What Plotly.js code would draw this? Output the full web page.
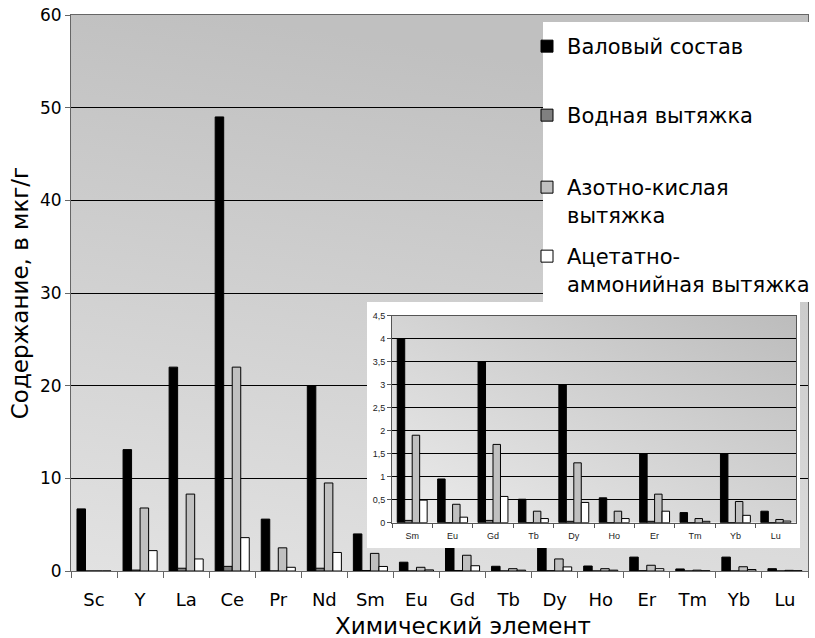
<!DOCTYPE html>
<html><head><meta charset="utf-8">
<script src="https://cdn.plot.ly/plotly-3.0.1.min.js"></script>
<style>html,body{margin:0;padding:0;background:#fff}#chart{width:815px;height:638px}</style>
</head><body><div id="chart"></div>
<script>
// ---- data ----
const elements = ['Sc','Y','La','Ce','Pr','Nd','Sm','Eu','Gd','Tb','Dy','Ho','Er','Tm','Yb','Lu'];
const totalContent   = [6.7, 13.1, 22.0, 49.0, 5.6, 20.0, 4.0, 0.95, 3.5, 0.51, 3.0, 0.54, 1.5, 0.22, 1.5, 0.25];
const waterExtract   = [0, 0.1, 0.3, 0.5, 0, 0.3, 0.05, 0, 0.05, 0, 0.03, 0, 0.03, 0, 0, 0];
const nitricExtract  = [0, 6.8, 8.3, 22.0, 2.5, 9.5, 1.9, 0.4, 1.7, 0.25, 1.3, 0.25, 0.62, 0.09, 0.46, 0.07];
const acetateExtract = [0, 2.2, 1.3, 3.6, 0.4, 2.0, 0.49, 0.12, 0.57, 0.09, 0.44, 0.09, 0.25, 0.03, 0.16, 0.035];
const seriesNames = ['Валовый состав', 'Водная вытяжка', 'Азотно-кислая<br>вытяжка', 'Ацетатно-<br>аммонийная вытяжка'];
const insetFirstElement = 'Sm';
const mainYTicks = [0, 10, 20, 30, 40, 50, 60];
const insetYTicks = [0, 0.5, 1, 1.5, 2, 2.5, 3, 3.5, 4, 4.5];
const yTitle = 'Содержание, в мкг/г';
const xTitle = 'Химический элемент';

// ---- styling ----
const seriesColors = ['#000000', '#808080', '#c0c0c0', '#ffffff'];
const allSeries = [totalContent, waterExtract, nitricExtract, acetateExtract];
const legendIds = ['legend', 'legend2', 'legend3', 'legend4'];
const legendTopsPx = [26, 95, 167, 236];
const W = 815, H = 638, M = {l: 71, r: 7, t: 15, b: 67};
const PW = W - M.l - M.r, PH = H - M.t - M.b;
const px2x = p => (p - M.l) / PW;
const px2y = p => (H - M.b - p) / PH;

function gradientSvg(c0, c1, x2, y2) {
  const s = "<svg xmlns='http://www.w3.org/2000/svg' width='100' height='100' viewBox='0 0 100 100' preserveAspectRatio='none'>" +
    "<defs><linearGradient id='g' x1='0' y1='1' x2='" + x2 + "' y2='" + y2 + "'>" +
    "<stop offset='0' stop-color='" + c0 + "'/><stop offset='1' stop-color='" + c1 + "'/></linearGradient></defs>" +
    "<rect x='0' y='0' width='100' height='100' fill='url(#g)'/></svg>";
  return 'data:image/svg+xml;base64,' + btoa(s);
}

const insetIdx = elements.indexOf(insetFirstElement);
const traces = [];
allSeries.forEach((vals, i) => {
  traces.push({
    type: 'bar', x: elements, y: vals, name: seriesNames[i],
    xaxis: 'x', yaxis: 'y', legend: legendIds[i],
    marker: {color: seriesColors[i], line: {color: '#000', width: 1}},
    hoverinfo: 'x+y'
  });
});
// white panel behind the inset (subplot x2y2)
traces.push({type: 'bar', x: [0], y: [1], width: [1], xaxis: 'x2', yaxis: 'y2',
  marker: {color: '#ffffff', line: {width: 0}}, showlegend: false, hoverinfo: 'skip'});
// inset chart (subplot x3y3)
allSeries.forEach((vals, i) => {
  traces.push({
    type: 'bar', x: elements.slice(insetIdx), y: vals.slice(insetIdx), name: seriesNames[i],
    xaxis: 'x3', yaxis: 'y3', showlegend: false,
    marker: {color: seriesColors[i], line: {color: '#000', width: 1}},
    hoverinfo: 'x+y'
  });
});

const font = 'DejaVu Sans, Verdana, sans-serif';
const legendBase = {
  x: px2x(527), xanchor: 'left', yanchor: 'top', bgcolor: 'rgba(0,0,0,0)', borderwidth: 0,
  font: {family: font, size: 21, color: '#000'}, valign: 'top'
};
const layout = {
  width: W, height: H,
  margin: {l: M.l, r: M.r, t: M.t, b: M.b, autoexpand: false},
  paper_bgcolor: '#ffffff', plot_bgcolor: 'rgba(0,0,0,0)',
  separators: ', ',
  barmode: 'group', bargap: 0.26, bargroupgap: 0,
  showlegend: true,
  font: {family: font, color: '#000'},
  xaxis: {
    type: 'category', domain: [0, 1], anchor: 'y', range: [-0.5, elements.length - 0.5],
    showline: true, linecolor: '#666', linewidth: 1, mirror: true,
    ticks: 'outside', tickson: 'boundaries', ticklen: 6, tickcolor: '#666',
    ticklabelstandoff: 12,
    tickfont: {family: font, size: 18, color: '#000'}, showgrid: false, zeroline: false,
    fixedrange: true
  },
  yaxis: {
    domain: [0, 1], anchor: 'x', range: [0, 60], tickvals: mainYTicks,
    showline: true, linecolor: '#666', linewidth: 1, mirror: true,
    ticks: 'outside', ticklen: 5, tickcolor: '#666',
    tickfont: {family: font, size: 17, color: '#000'},
    showgrid: true, gridcolor: '#000', gridwidth: 1, zeroline: false,
    title: {text: yTitle, font: {family: font, size: 23, color: '#000'}, standoff: 4},
    fixedrange: true
  },
  xaxis2: {domain: [px2x(367), px2x(800)], anchor: 'y2', range: [-0.5, 0.5], visible: false, fixedrange: true},
  yaxis2: {domain: [px2y(548), px2y(302)], anchor: 'x2', range: [0, 1], visible: false, fixedrange: true},
  xaxis3: {
    type: 'category', domain: [px2x(392), px2x(796)], anchor: 'y3',
    range: [-0.5, elements.length - insetIdx - 0.5],
    showline: true, linecolor: '#555', linewidth: 1, mirror: true,
    ticks: 'outside', tickson: 'boundaries', ticklen: 4, tickcolor: '#555',
    ticklabelstandoff: 4,
    tickfont: {family: 'Liberation Sans, Arial, sans-serif', size: 9, color: '#222'},
    showgrid: false, zeroline: false, fixedrange: true
  },
  yaxis3: {
    domain: [px2y(522.7), px2y(315.5)], anchor: 'x3', range: [0, 4.5], tickvals: insetYTicks,
    showline: true, linecolor: '#555', linewidth: 1, mirror: true,
    ticks: 'outside', ticklen: 4, tickcolor: '#555',
    tickfont: {family: 'Liberation Sans, Arial, sans-serif', size: 9, color: '#222'},
    showgrid: true, gridcolor: '#000', gridwidth: 1, zeroline: false, fixedrange: true
  },
  images: [
    {source: gradientSvg('#e2e2e2', '#c0c0c0', 0.2, 0), xref: 'paper', yref: 'paper',
     x: 0, y: 1, sizex: 1, sizey: 1, xanchor: 'left', yanchor: 'top', sizing: 'stretch', layer: 'below'},
    {source: gradientSvg('#ececec', '#bcbcbc', 1, 0), xref: 'x3 domain', yref: 'y3 domain',
     x: 0, y: 1, sizex: 1, sizey: 1, xanchor: 'left', yanchor: 'top', sizing: 'stretch', layer: 'below'}
  ],
  shapes: [
    {type: 'rect', xref: 'paper', yref: 'paper', x0: px2x(543), x1: px2x(816), y0: px2y(302), y1: px2y(22),
     fillcolor: '#ffffff', line: {width: 0}, layer: 'above'}
  ],
  annotations: [
    {text: xTitle, xref: 'paper', yref: 'paper', x: px2x(463), y: px2y(626), xanchor: 'center', yanchor: 'middle',
     showarrow: false, font: {family: font, size: 23, color: '#000'}}
  ]
};
legendIds.forEach((id, i) => {
  layout[id] = Object.assign({}, legendBase, {y: px2y(legendTopsPx[i])});
});

Plotly.newPlot('chart', traces, layout, {displayModeBar: false, staticPlot: true});
</script>
</body></html>
